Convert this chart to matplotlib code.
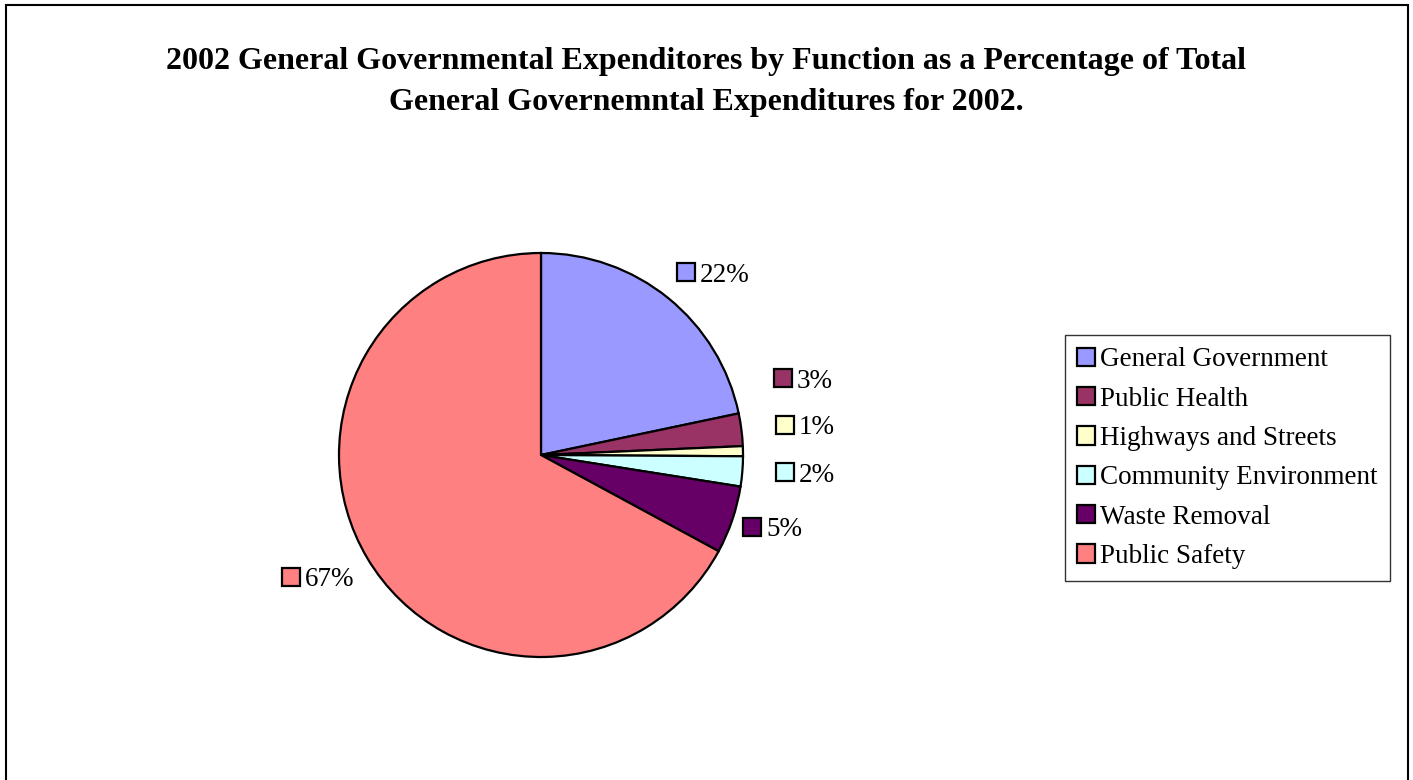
import matplotlib
matplotlib.use("Agg")
import matplotlib.pyplot as plt
from matplotlib.patches import Rectangle, Patch

# Expenditure shares by function (percent of total)
categories = ["General Government", "Public Health", "Highways and Streets",
              "Community Environment", "Waste Removal", "Public Safety"]
shares = [21.7, 2.6, 0.8, 2.4, 5.4, 67.1]
colors = ["#9999FF", "#993366", "#FFFFCC", "#CCFFFF", "#660066", "#FF8080"]

title_lines = ["2002 General Governmental Expenditores by Function as a Percentage of Total",
               "General Governemntal Expenditures for 2002."]

W, H = 1413, 780
FONT = "Liberation Serif"
FS = 19.5
TITLE_FS = 23

fig = plt.figure(figsize=(W / 100, H / 100), dpi=100)
ax = fig.add_axes([0, 0, 1, 1])


def py(y):
    """Convert a top-down pixel row to the bottom-up axis coordinate."""
    return H - y


# outer chart frame
ax.add_patch(Rectangle((6, py(800)), 1402, 795, fill=False, edgecolor="black",
                       linewidth=1.5, zorder=1))

# title
ax.text(W / 2, py(61.5), title_lines[0], ha="center", va="center",
        fontsize=TITLE_FS, fontweight="bold", family=FONT)
ax.text(W / 2, py(102.5), title_lines[1], ha="center", va="center",
        fontsize=TITLE_FS, fontweight="bold", family=FONT)

# pie, clockwise from 12 o'clock
cx, cy, r = 541, 455, 202
ax.pie(shares, colors=colors, startangle=90, counterclock=False,
       center=(cx, py(cy)), radius=r, frame=True,
       wedgeprops=dict(edgecolor="black", linewidth=1.6))
ax.set_xlim(0, W)
ax.set_ylim(0, H)
ax.axis("off")

# data labels: marker square left edge and vertical center for each slice
label_anchor = [(677, 272), (774, 378), (776, 425), (776, 472), (743, 527), (282, 577)]
sq = 18
for v, c, (lx, ly) in zip(shares, colors, label_anchor):
    ax.add_patch(Rectangle((lx, py(ly) - sq / 2), sq, sq, facecolor=c,
                           edgecolor="black", linewidth=1.6, zorder=3))
    ax.text(lx + sq + 5, py(ly), f"{round(v):.0f}%", ha="left", va="center_baseline",
            fontsize=FS, family=FONT, zorder=3)

# legend
handles = [Patch(facecolor=c, edgecolor="black", linewidth=1.6) for c in colors]
leg = fig.legend(handles, categories, loc="upper left",
                 bbox_to_anchor=(1065 / W, 1 - 335 / H),
                 prop=dict(family=FONT, size=FS), frameon=True, fancybox=False,
                 handlelength=0.66, handleheight=0.66, handletextpad=0.2,
                 labelspacing=0.53, borderpad=0.45, borderaxespad=0)
leg.get_frame().set_edgecolor("black")
leg.get_frame().set_linewidth(1.0)

fig.savefig("out.png", dpi=100, facecolor="white")
